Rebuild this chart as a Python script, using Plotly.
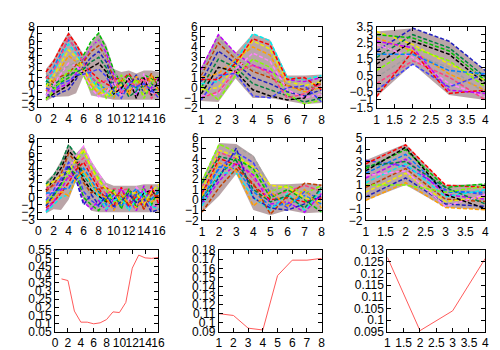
import plotly.graph_objects as go

# gnuplot-like colour cycle for the bundles of dashed lines
palette = ["#ff0000", "#00c000", "#0080ff", "#c000ff", "#00eeee", "#c04000",
           "#eeee00", "#2020c0", "#ffa000", "#008040", "#ff80ff", "#000000",
           "#80ff00", "#a0a0a0", "#ff4080", "#4040ff"]

x16 = list(range(1, 17))
x8 = list(range(1, 9))
x4 = [1, 2, 3, 4]

# row 1, left: two bumps at x=4 and x=8
lines_a = [
    [1.8, 3.2, 5.2, 7.0, 5.6, 3.8, 1.8, 0.8, 0.2, -0.4, 0.6, 1.6, 0.2, 1.2, 0.4, 1.1],
    [0.2, -0.4, 0.4, 1.0, 2.2, 4.0, 6.0, 7.1, 5.0, 2.0, 0.2, 1.4, -0.4, 1.4, 0.9, 0.1],
    [1.0, 2.4, 4.4, 6.2, 5.0, 3.2, 1.2, 0.0, -0.5, -1.2, -0.2, 0.8, -0.6, 0.5, -0.3, 0.2],
    [-0.6, -1.0, -0.2, 0.2, 1.6, 3.4, 5.2, 6.2, 4.4, 1.4, -0.6, 0.4, -1.2, 0.4, -0.4, 1.2],
    [0.4, 1.8, 3.8, 5.6, 4.3, 2.8, 0.8, -0.4, -1.0, -1.6, -0.8, 0.3, -1.2, -0.2, -1.0, -0.4],
    [1.2, 0.4, 1.2, 1.6, 2.8, 3.2, 4.6, 5.4, 3.8, 0.8, 1.0, -1.0, 0.6, -0.4, 1.6, -0.8],
    [-0.2, 1.2, 3.0, 4.8, 3.8, 2.4, 0.4, -0.9, -1.4, -0.6, 0.0, -0.8, 0.6, -1.4, 0.8, -1.0],
    [-1.2, -1.6, -1.0, -0.6, 0.8, 2.6, 3.8, 4.6, 3.2, 0.2, -1.2, -0.2, 1.4, -1.2, -0.8, 0.4],
    [-0.8, 0.6, 2.4, 4.0, 3.2, 2.0, 0.0, -1.2, -0.3, -1.8, 1.0, -1.4, 1.2, -0.8, 1.4, -1.6],
    [0.6, 0.0, 0.8, 1.4, 1.8, 2.2, 3.2, 3.8, 2.4, -0.4, 0.5, -1.6, -0.8, 0.0, 0.3, -1.3],
    [-1.4, 0.0, 1.6, 3.0, 2.6, 1.6, -0.4, -1.6, -1.0, 0.4, -1.4, 1.2, -1.6, 1.6, -1.2, 0.6],
    [-1.8, -1.2, -0.6, 0.0, 1.2, 1.8, 2.4, 3.0, 1.8, -1.2, -0.4, 0.9, -1.8, 1.0, -1.4, 0.9],
    [-2.0, -0.8, 0.6, 2.0, 2.0, 1.3, -0.8, 0.8, -1.8, -1.0, 1.4, -0.4, 0.8, -1.8, 0.2, 1.4],
    [1.6, 1.0, 2.0, 2.6, 3.2, 3.8, 5.0, 6.4, 3.6, 1.7, 0.8, -0.6, 0.3, -1.0, 0.6, -0.2],
    [0.9, 2.0, 4.0, 6.6, 4.6, 3.0, 1.0, 0.3, 0.6, 0.9, -1.2, 0.6, -0.2, 0.9, -1.8, -0.6],
    [-0.4, -0.8, 0.2, 0.6, 1.4, 1.5, 1.8, 2.2, 1.2, -0.8, -1.8, 0.0, -0.2, 0.2, -0.6, -1.8],
]
upper_a = [2.2, 3.5, 5.5, 7.3, 5.8, 4.2, 5.8, 7.2, 5.5, 2.2, 1.8, 2.0, 1.6, 2.0, 2.0, 1.8]
lower_a = [-2.2, -1.6, -1.6, -1.5, -1.1, 1.3, -1.4, -1.6, -1.8, -2.0, -2.0, -2.0, -2.0, -2.0, -2.0, -2.0]

# row 1, middle: bumps at x=2 and x=4
lines_b = [
    [1.8, 5.2, 3.4, 2.2, 1.6, 0.8, 0.6, 1.0],
    [0.4, 0.6, 2.6, 5.3, 4.6, 1.0, 0.8, 1.2],
    [1.2, 4.4, 2.8, 1.6, 1.0, 0.2, -0.2, 0.4],
    [-0.2, 0.0, 2.2, 4.6, 3.8, 0.6, 0.2, 0.6],
    [0.6, 3.6, 2.4, 1.0, 0.4, -0.4, -0.8, -0.2],
    [1.0, 1.4, 2.8, 4.0, 3.2, 0.2, -0.4, 0.0],
    [0.0, 2.8, 2.0, 0.4, -0.2, -0.8, -1.4, -1.0],
    [-0.8, -0.6, 1.8, 3.4, 2.6, -0.2, -1.0, -0.6],
    [-0.6, 2.0, 1.6, -0.2, -0.8, -1.2, -1.0, 0.8],
    [0.2, -1.2, 1.2, 2.8, 2.0, -0.6, -1.6, -1.2],
    [1.4, 4.8, 3.0, 1.8, 1.2, 0.4, 0.9, -0.6],
    [-1.0, -0.4, 1.6, 2.2, 1.4, -1.0, -0.6, 0.4],
    [-1.2, 1.2, 1.4, -0.8, -1.0, 0.0, 0.2, -1.4],
    [0.8, 0.8, 2.4, 4.8, 4.2, 0.8, 1.0, -0.2],
]
upper_b = [2.0, 5.3, 3.4, 5.3, 4.7, 1.2, 1.2, 1.3]
lower_b = [-1.3, -1.4, 0.9, -1.0, -1.0, -1.3, -1.6, -1.5]

# row 1, right
lines_c = [
    [3.2, 2.4, 1.2, 0.2],
    [2.0, 3.4, 2.6, 0.8],
    [2.8, 2.0, 0.6, -0.4],
    [1.6, 3.0, 2.2, 0.4],
    [2.4, 1.6, 0.0, -0.8],
    [1.2, 2.6, 1.8, 0.0],
    [0.8, 2.2, 1.4, -0.2],
    [0.4, 1.8, 1.0, -0.6],
    [0.0, 1.4, 0.4, -1.0],
    [-0.4, 1.2, -0.2, 0.6],
    [-0.8, 2.0, -0.6, -0.4],
    [3.0, 2.8, 2.0, 0.2],
    [1.8, 1.8, 0.8, 0.6],
    [2.6, 2.2, -0.4, -0.6],
]
upper_c = [3.2, 3.4, 2.6, 0.8]
lower_c = [-0.8, 1.2, -0.7, -1.0]

# row 2, left: bumps at x=4 and x=6
lines_d = [
    [1.8, 3.0, 4.6, 7.2, 5.8, 3.0, 1.6, 0.8, 0.0, 0.6, -0.4, 1.0, 0.2, 1.2, -0.4, 0.8],
    [0.2, 1.0, 2.0, 4.0, 5.6, 7.0, 4.8, 3.2, 1.6, 0.0, 0.6, -0.4, 1.4, 0.4, 1.2, 0.2],
    [1.0, 2.4, 4.0, 6.4, 5.2, 2.4, 1.0, 0.2, -0.6, 0.0, -1.0, 0.4, -0.6, 0.6, 1.0, -0.2],
    [-0.6, 0.4, 1.4, 3.2, 5.0, 6.2, 4.2, 2.6, 1.0, -0.6, -0.2, 0.8, -0.4, 1.2, -0.8, 1.4],
    [0.4, 1.6, 3.4, 5.6, 4.4, 1.6, 0.2, -0.6, -1.2, -0.8, 0.8, -0.6, 1.0, -0.4, 0.2, -1.2],
    [1.2, 1.6, 2.4, 2.6, 4.4, 5.4, 3.6, 1.8, 0.4, 1.2, 1.0, 1.2, -1.2, -0.6, 0.6, -0.4],
    [-0.4, 1.0, 2.6, 4.8, 3.8, 0.8, -0.4, -1.2, 0.6, -1.6, 0.2, -1.4, 0.4, -1.2, 1.4, 0.6],
    [-1.4, -0.6, 0.6, 2.0, 3.8, 4.8, 3.0, 1.2, -0.4, -1.2, 1.4, -1.2, 0.2, -1.6, 1.6, -1.0],
    [-1.0, 0.2, 1.8, 4.0, 3.2, 0.0, -1.0, -1.8, -0.2, 1.0, -1.6, 1.2, -1.4, 0.2, -1.0, 1.2],
    [0.6, 0.6, 1.2, 1.2, 3.0, 4.0, 2.4, 0.6, -1.0, 0.4, -1.2, 0.2, 1.2, -0.2, -0.2, 0.8],
    [-1.8, -0.6, 1.0, 3.0, 2.6, -0.6, -1.6, -0.4, -1.8, -0.2, 1.2, -0.2, -1.8, 1.6, -1.6, -0.8],
    [-2.0, -1.0, 0.0, 0.4, 2.4, 3.2, 1.8, 0.0, -1.6, -0.4, 0.0, -1.8, -0.2, 0.8, -1.2, -1.6],
    [0.8, 1.8, 3.2, 6.0, 4.8, 2.0, 0.6, 1.2, 1.4, 0.4, 0.2, -1.0, 0.8, -1.6, 0.4, 0.2],
    [1.6, 2.2, 3.0, 3.6, 5.2, 6.6, 4.0, 2.2, 1.2, 0.8, -0.8, 0.6, 0.6, -1.0, 0.8, 1.8],
    [-1.2, 0.4, 2.0, 4.4, 2.4, -1.0, 0.4, -1.0, 0.2, -1.2, -0.6, 0.6, -0.8, -0.2, -2.0, -1.6],
    [-0.8, -0.2, 0.8, 0.2, 2.6, 3.6, 2.0, 0.4, 0.0, -1.8, 0.4, -0.8, -1.4, 0.0, -0.6, 0.0],
]
upper_d = [2.2, 3.2, 5.0, 7.3, 6.0, 7.1, 5.0, 3.4, 2.0, 1.6, 1.6, 1.6, 1.6, 1.8, 1.8, 1.8]
lower_d = [-2.2, -1.6, -1.7, -0.3, 2.3, -0.3, -1.8, -2.0, -2.0, -2.0, -2.0, -2.0, -2.0, -2.0, -2.0, -2.0]

# row 2, middle: bumps at x=2 and x=3
lines_e = [
    [1.8, 5.4, 4.6, 2.6, 0.8, 1.4, 0.6, 1.4],
    [1.4, 3.6, 5.2, 4.2, 1.2, 0.0, -0.6, -0.8],
    [1.2, 4.6, 4.0, 2.0, 0.4, 0.8, 1.4, 0.8],
    [0.8, 3.0, 4.6, 3.6, 0.6, -0.8, 0.8, 0.0],
    [0.6, 4.0, 3.4, 1.4, 0.0, 0.2, -0.2, 0.2],
    [0.2, 2.4, 4.0, 3.0, 0.2, 1.0, 0.0, -1.2],
    [0.0, 3.2, 3.0, 0.8, -0.6, -0.4, 0.4, -0.4],
    [-0.4, 1.8, 3.6, 2.4, -0.4, -0.2, -1.2, 0.6],
    [-0.6, 2.6, 2.6, 0.2, -1.0, 0.6, -1.0, 1.0],
    [-1.2, 1.2, 3.0, 1.6, -1.4, 0.4, 1.6, 1.4],
    [1.0, 4.8, 4.2, 3.2, 1.4, 1.2, 0.2, -0.2],
    [-0.2, 2.2, 5.0, 0.2, -0.8, -1.0, -0.4, 0.4],
    [0.4, 3.6, 2.8, -0.6, 0.8, -0.6, 1.0, -0.8],
    [1.6, 4.2, 3.8, 1.0, -0.2, 0.4, -0.8, 1.2],
]
upper_e = [2.0, 5.5, 5.4, 4.3, 1.5, 1.5, 1.6, 1.5]
lower_e = [-1.2, 0.4, 2.5, -1.0, -1.5, -1.0, -1.3, -1.2]

# row 2, right
lines_f = [
    [3.1, 2.6, 0.6, 0.2],
    [2.8, 4.4, 1.0, 0.8],
    [2.4, 4.0, 0.8, 1.1],
    [2.0, 3.6, 0.4, 0.4],
    [1.6, 3.2, 0.2, -0.2],
    [1.2, 2.8, 0.0, 0.6],
    [0.8, 2.4, -0.2, -0.4],
    [0.4, 2.0, -0.4, 0.0],
    [0.0, 1.6, -0.6, -0.8],
    [-0.3, 1.2, -0.9, -1.1],
    [2.6, 3.0, 0.8, -0.6],
    [1.8, 2.2, -0.8, 0.2],
    [2.2, 4.2, 0.2, -1.0],
    [1.0, 1.0, 0.4, 0.9],
]
upper_f = [3.1, 4.5, 1.0, 1.1]
lower_f = [-0.3, 1.0, -0.9, -1.1]

# row 3: single curves
curve_g = [0.374, 0.364, 0.177, 0.109, 0.109, 0.099, 0.105, 0.125,
           0.172, 0.168, 0.230, 0.440, 0.520, 0.503, 0.500, 0.505]
curve_h = [0.110, 0.108, 0.094, 0.092, 0.152, 0.169, 0.169, 0.171]
curve_i = [0.127, 0.0955, 0.104, 0.1265]

W, H = 500, 350
# (left, right, top, bottom) in pixels, x range, x dtick, y range, y dtick
panels = [
    ((28, 151, 12, 96), [0, 16], 2, [-3, 8], 1),
    ((194, 317, 12, 97), [1, 8], 1, [-2, 6], 1),
    ((373, 484, 12, 97), [1, 4], 0.5, [-1.5, 3.5], 0.5),
    ((28, 151, 129, 213), [0, 16], 2, [-3, 8], 1),
    ((195, 317, 128, 214), [1, 8], 1, [-2, 6], 1),
    ((362, 484, 128, 214), [1, 4], 0.5, [-2, 5], 1),
    ((45, 150, 245, 330), [0, 16], 2, [0.05, 0.55], 0.05),
    ((212, 317, 245, 330), [1, 8], 1, [0.09, 0.18], 0.01),
    ((384, 484, 245, 330), [1, 4], 0.5, [0.095, 0.13], 0.005),
]

fig = go.Figure()

bundles = [(lines_a, upper_a, lower_a, x16), (lines_b, upper_b, lower_b, x8),
           (lines_c, upper_c, lower_c, x4), (lines_d, upper_d, lower_d, x16),
           (lines_e, upper_e, lower_e, x8), (lines_f, upper_f, lower_f, x4)]
for k, (bundle, up, lo, xs) in enumerate(bundles):
    ax = "" if k == 0 else str(k + 1)
    # dense body of the bundle, read as an envelope
    fig.add_trace(go.Scatter(
        x=xs + xs[::-1], y=up + lo[::-1], mode="lines", fill="toself",
        xaxis="x" + ax, yaxis="y" + ax, line=dict(width=0),
        fillcolor="rgba(140,105,110,0.6)", showlegend=False, hoverinfo="skip",
    ))
    for i, ys in enumerate(bundle):
        fig.add_trace(go.Scatter(
            x=xs, y=ys, mode="lines", xaxis="x" + ax, yaxis="y" + ax,
            line=dict(color=palette[(i + k * 3) % len(palette)], width=1.5, dash="4px,2px"),
            showlegend=False, hoverinfo="skip",
        ))

for k, (ys, xs) in enumerate([(curve_g, x16), (curve_h, x8), (curve_i, x4)]):
    ax = str(k + 7)
    fig.add_trace(go.Scatter(
        x=xs, y=ys, mode="lines", xaxis="x" + ax, yaxis="y" + ax,
        line=dict(color="#ff5a5a", width=1), showlegend=False,
    ))

axis_style = dict(
    showline=True, linecolor="black", linewidth=1, mirror="allticks",
    ticks="inside", ticklen=4, tickcolor="black", showgrid=False, zeroline=False,
    tickangle=0,
    tickfont=dict(family="Liberation Sans, Arial", size=12, color="black"),
)
layout = {}
for k, ((l, r, t, b), xr, xd, yr, yd) in enumerate(panels):
    n = "" if k == 0 else str(k + 1)
    layout["xaxis" + n] = dict(
        domain=[l / W, r / W], range=xr, dtick=xd, tick0=0,
        anchor="y" + n, **axis_style,
    )
    layout["yaxis" + n] = dict(
        domain=[1 - b / H, 1 - t / H], range=yr, dtick=yd, tick0=0,
        anchor="x" + n, **axis_style,
    )

fig.update_layout(
    **layout,
    width=W, height=H,
    margin=dict(l=0, r=0, t=0, b=0),
    plot_bgcolor="white", paper_bgcolor="white",
    showlegend=False,
)
fig.write_html("out.html")
